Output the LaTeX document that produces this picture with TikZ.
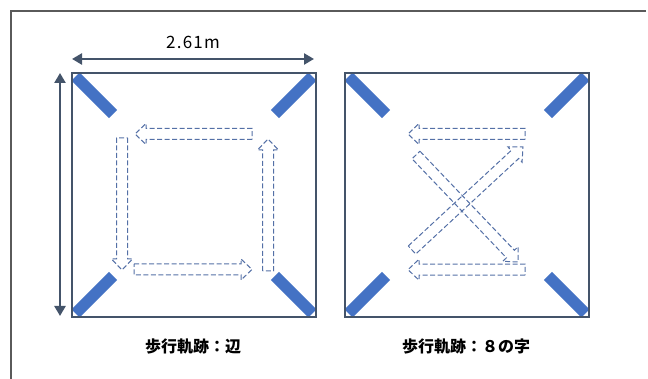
\documentclass[tikz,border=0pt]{standalone}
\usepackage{fontspec}
\setmainfont{Noto Sans CJK JP}
\newfontfamily\dimfont[LetterSpace=7]{Noto Sans CJK JP}
\usetikzlibrary{calc,arrows.meta}
\definecolor{slate}{HTML}{44546A}
\definecolor{barblue}{HTML}{4472C4}
\definecolor{dashblue}{HTML}{5470A6}
\definecolor{framegray}{HTML}{5A5A5A}
\tikzset{
  sqline/.style={draw=slate, line width=2.4pt},
  cornerbar/.style={draw=barblue, line width=11.5pt},
  dimarrow/.style={draw=slate, line width=2.8pt, {Triangle[length=10pt,width=11pt]}-{Triangle[length=10pt,width=11pt]}},
  harr/.style={draw=dashblue, line width=1pt, dash pattern=on 5pt off 2.5pt, line join=miter},
  lbl/.style={font=\bfseries\fontsize{16pt}{18pt}\selectfont, text=black, inner sep=0pt},
  framestyle/.style={draw=framegray, line width=1.3pt}
}
\newcommand{\hollowarr}[2]{%
  \path (#1) coordinate (hT) (#2) coordinate (hH) ($(hH)!11pt!(hT)$) coordinate (hB);
  \draw[harr] ($(hT)!5.5pt!90:(hH)$) -- ($(hB)!5.5pt!-90:(hT)$) -- ($(hB)!10.5pt!-90:(hT)$) -- (hH)
     -- ($(hB)!10.5pt!90:(hT)$) -- ($(hB)!5.5pt!90:(hT)$) -- ($(hT)!5.5pt!-90:(hH)$) -- cycle;
}
\newcommand{\cornerbarat}[2]{%
  \draw[cornerbar] ($(#1)!5pt!(#2)$) -- ($(#1)!58pt!(#2)$);
}
\begin{document}
\begin{tikzpicture}[x=1pt,y=-1pt]
\useasboundingbox (0,0) rectangle (648,379);
% outer frame
\coordinate (f1) at (646,11);
\coordinate (f2) at (11,11);
\coordinate (f3) at (11,379);
\draw[framestyle] (f1) -- (f2) -- (f3);
% squares (placeholders)
\node[minimum size=244pt, inner sep=0pt, outer sep=0pt] (L) at (194,195) {};
\node[minimum size=244pt, inner sep=0pt, outer sep=0pt] (R) at (467,195) {};
% corner bars
\foreach \s in {L,R}{
  \cornerbarat{\s.north west}{\s.center}
  \cornerbarat{\s.north east}{\s.center}
  \cornerbarat{\s.south west}{\s.center}
  \cornerbarat{\s.south east}{\s.center}
}
\draw[sqline] (L.north west) rectangle (L.south east);
\draw[sqline] (R.north west) rectangle (R.south east);
% dimension arrows
\coordinate (hl) at (72,59);
\coordinate (hr) at (314,59);
\coordinate (vt) at (60,73);
\coordinate (vb) at (60,316);
\draw[dimarrow] (hl) -- (hr);
\draw[dimarrow] (vt) -- (vb);
\node[font=\dimfont\fontsize{17pt}{19pt}\selectfont, inner sep=0pt] (dim) at (193,42) {2.61m};
% left square path arrows
\coordinate (a1) at (252,134);   \coordinate (a2) at (135,134);
\coordinate (b1) at (122,138);   \coordinate (b2) at (122,270);
\coordinate (c1) at (134,269.5); \coordinate (c2) at (252,269.5);
\coordinate (d1) at (268,271);   \coordinate (d2) at (268,139);
\hollowarr{a1}{a2}
\hollowarr{b1}{b2}
\hollowarr{c1}{c2}
\hollowarr{d1}{d2}
% right square path arrows
\coordinate (e1) at (525,134);   \coordinate (e2) at (408,134);
\coordinate (g1) at (525,269.7); \coordinate (g2) at (408,269.7);
\coordinate (k1) at (416,155);   \coordinate (k2) at (518,262);
\coordinate (m1) at (412,250);   \coordinate (m2) at (523,147);
\hollowarr{e1}{e2}
\hollowarr{k1}{k2}
\hollowarr{m1}{m2}
\hollowarr{g1}{g2}
% labels
\node[lbl] (l1) at (193,346) {歩行軌跡：辺};
\node[lbl] (l2) at (466,346) {歩行軌跡：８の字};
\end{tikzpicture}
\end{document}
